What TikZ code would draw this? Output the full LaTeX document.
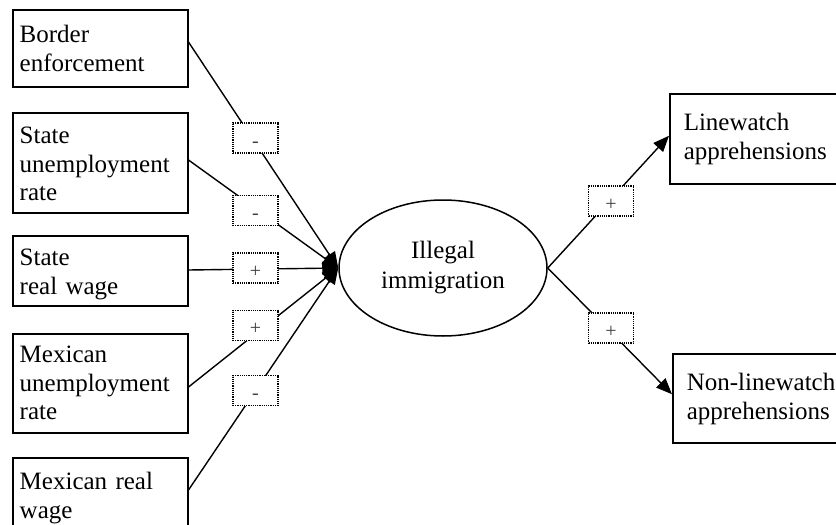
\documentclass[tikz,border=0pt]{standalone}
\usepackage{fontspec}
\setmainfont{Liberation Serif}
\usetikzlibrary{arrows.meta,calc,shapes.geometric}
\begin{document}
\begin{tikzpicture}[x=1pt,y=-1pt,
  box/.style={draw,line width=1.5pt,rectangle,anchor=north west,align=left,
    font=\fontsize{25}{28.5}\selectfont,inner ysep=0pt,inner xsep=7pt,text width=161pt},
  rbox/.style={box,inner xsep=14pt,text width=200pt},
  ell/.style={draw,line width=1.5pt,ellipse,minimum width=208pt,minimum height=136pt,
    inner sep=0pt,align=center,font=\fontsize{25}{30}\selectfont},
  sign/.style={draw,line width=1.2pt,dash pattern=on 1.2pt off 1pt,fill=white,
    minimum width=45pt,minimum height=30pt,inner sep=0pt,text height=18pt,text depth=0pt,
    font=\fontsize{20}{20}\selectfont,text=black!75},
  link/.style={line width=1.4pt,-{Triangle[length=16pt,width=13pt]}}]
\clip (0,0) rectangle (836,525);
\fill[white] (0,0) rectangle (836,525);
\node[box,text height=33pt,text depth=44pt] (b1) at (12,9) {Border\\enforcement};
\node[box,text height=31pt,text depth=69pt] (b2) at (12,112) {State\\unemployment\\rate};
\node[box,text height=30pt,text depth=40pt] (b3) at (12,235) {State\\real wage};
\node[box,text height=29pt,text depth=70pt] (b4) at (12,333) {Mexican\\unemployment\\rate};
\node[box,text height=32pt,text depth=68pt] (b5) at (12,457) {Mexican real\\wage};
\node[ell] (ill) at (443,268) {Illegal\\immigration};
\node[rbox,text height=37pt,text depth=53pt] (lw) at (669,93) {Linewatch\\apprehensions};
\node[rbox,text height=37pt,text depth=52pt] (nlw) at (672,353) {Non-linewatch\\apprehensions};
\draw[link] ($(b1.north east)+(0,33)$) -- (ill.west);
\draw[link] ($(b2.north east)+(0,48)$) -- (ill.west);
\draw[link] ($(b3.north east)+(0,35)$) -- (ill.west);
\draw[link] ($(b4.north east)+(0,54)$) -- (ill.west);
\draw[link] ($(b5.north east)+(0,33)$) -- (ill.west);
\draw[link] (ill.east) -- ($(lw.west)+(0,-3)$);
\draw[link] (ill.east) -- ($(nlw.west)+(0,-4)$);
\node[sign] (s1) at (255.5,138) {-};
\node[sign] (s2) at (255.5,210.5) {-};
\node[sign] (s3) at (255.5,268) {+};
\node[sign] (s4) at (255.5,325.5) {+};
\node[sign] (s5) at (255.5,390.5) {-};
\node[sign] (s6) at (611,201) {+};
\node[sign] (s7) at (611,328) {+};
\end{tikzpicture}
\end{document}
